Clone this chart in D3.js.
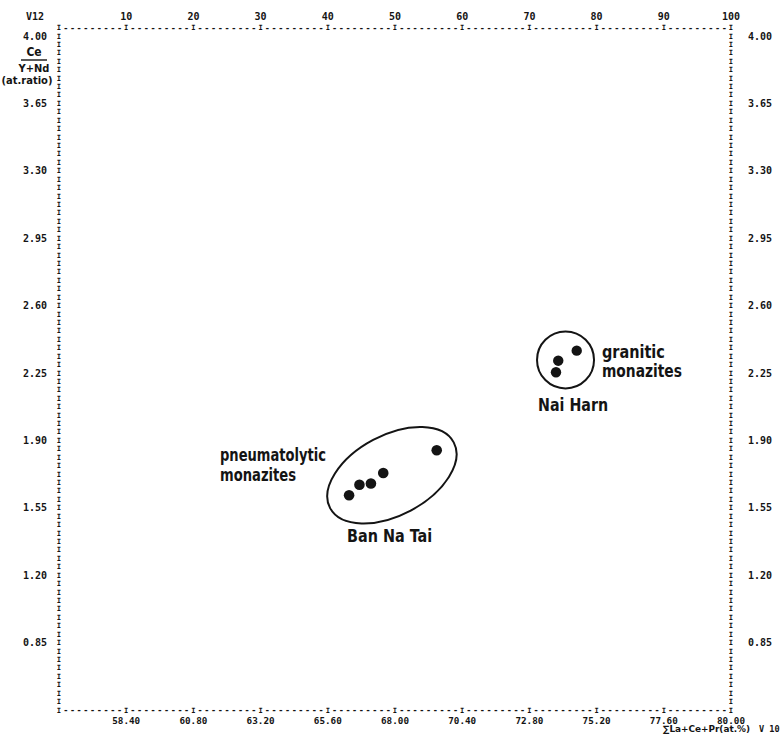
<!DOCTYPE html>
<html><head><meta charset="utf-8">
<script src="https://cdn.jsdelivr.net/npm/d3@7/dist/d3.min.js"></script>
<style>body{margin:0;background:#fff}</style>
</head><body>
<svg id="chart" width="784" height="734"></svg>
<script>
// ---- data ----
const topTicks = [10, 20, 30, 40, 50, 60, 70, 80, 90, 100];
const bottomTicks = [58.40, 60.80, 63.20, 65.60, 68.00, 70.40, 72.80, 75.20, 77.60, 80.00];
const yTicks = [0.85, 1.20, 1.55, 1.90, 2.25, 2.60, 2.95, 3.30, 3.65, 4.00];
const banNaTaiX = [66.36, 66.73, 67.14, 67.58, 69.49];
const banNaTaiY = [1.615, 1.670, 1.676, 1.731, 1.849];
const naiHarnX = [74.49, 73.83, 73.75];
const naiHarnY = [2.366, 2.314, 2.254];
const groupNames = ["Ban Na Tai", "Nai Harn"];
const groupCenterX = [67.89, 74.09];
const groupCenterY = [1.719, 2.318];
const labelTexts = ["pneumatolytic", "monazites", "Ban Na Tai", "Nai Harn", "granitic", "monazites"];
const labelX = [61.75, 61.75, 66.29, 73.11, 75.39, 75.39];
const labelY = [1.792, 1.688, 1.370, 2.052, 2.328, 2.229];

// ---- layout / style ----
const W = 784, H = 734;
const ink = "#141414";
const mono = "'DejaVu Sans Mono', 'Liberation Mono', monospace";
const cond = "'Liberation Sans Narrow', 'DejaVu Sans Condensed', 'Arial Narrow', sans-serif";
const x = d3.scaleLinear().domain([56, 80]).range([59, 731]);
const xTop = d3.scaleLinear().domain([0, 100]).range([59, 731]);
const y = d3.scaleLinear().domain([0.5, 4.0]).range([710, 36]);
const rowStep = 0.35 / 8;                    // line-printer rows
const nRows = Math.round(3.5 / rowStep) + 1; // index of top axis row
const rowY = r => y(0.5 + r * rowStep);

const svg = d3.select("#chart");
svg.append("rect").attr("width", W).attr("height", H).attr("fill", "#fff");
const g = svg.append("g").attr("fill", ink).attr("font-family", mono);

// printer "I" glyph
function glyphI(sel) {
  sel.attr("text-anchor", "middle").attr("dominant-baseline", "central")
    .attr("font-size", 7.1).attr("font-weight", "bold").text("I");
}

// horizontal printer axes (bottom: row 0, top: row nRows), one character per column
[0, nRows].forEach(r => {
  const yy = rowY(r);
  const cols = d3.range(0, 101);
  g.append("g").selectAll("text").data(cols.filter(d => d % 10 === 0)).join("text")
    .attr("x", d => xTop(d)).attr("y", yy).call(glyphI);
  g.append("g").selectAll("text").data(cols.filter(d => d % 10 !== 0)).join("text")
    .attr("x", d => xTop(d)).attr("y", yy)
    .attr("text-anchor", "middle").attr("dominant-baseline", "central")
    .attr("font-size", 8.5).attr("font-weight", "bold").text("-");
});
// vertical printer axes
x.range().forEach(xx => {
  g.append("g").selectAll("text").data(d3.range(1, nRows)).join("text")
    .attr("x", xx).attr("y", r => rowY(r)).call(glyphI);
});

const lab = sel => sel.attr("dominant-baseline", "central")
  .attr("font-size", 10).attr("font-weight", "bold");

// top tick labels
g.append("g").selectAll("text").data(topTicks).join("text")
  .attr("x", d => xTop(d)).attr("y", rowY(nRows) - 11)
  .attr("text-anchor", "middle").call(lab).text(d => d);
g.append("text").attr("x", 35).attr("y", rowY(nRows) - 11)
  .attr("text-anchor", "middle").call(lab).text("V12");

// bottom tick labels
g.append("g").selectAll("text").data(bottomTicks).join("text")
  .attr("x", d => x(d)).attr("y", rowY(0) + 10.4)
  .attr("text-anchor", "middle").call(lab).attr("font-size", 9.3)
  .text(d => d3.format(".2f")(d));

// left / right tick labels
g.append("g").selectAll("text").data(yTicks).join("text")
  .attr("x", x.range()[0] - 12).attr("y", d => y(d))
  .attr("text-anchor", "end").call(lab).text(d => d3.format(".2f")(d));
g.append("g").selectAll("text").data(yTicks).join("text")
  .attr("x", x.range()[1] + 17).attr("y", d => y(d))
  .attr("text-anchor", "start").call(lab).text(d => d3.format(".2f")(d));

// y-axis title
const yt = svg.append("g").attr("fill", ink).attr("font-family", cond).attr("font-weight", "bold");
yt.append("text").attr("x", 34).attr("y", 52).attr("text-anchor", "middle")
  .attr("dominant-baseline", "central").attr("font-size", 12).text("Ce");
yt.append("line").attr("x1", 21).attr("x2", 47).attr("y1", 60).attr("y2", 60)
  .attr("stroke", ink).attr("stroke-width", 1.4);
yt.append("text").attr("x", 34).attr("y", 68).attr("text-anchor", "middle")
  .attr("dominant-baseline", "central").attr("font-size", 11).text("Y+Nd");
yt.append("text").attr("x", 27).attr("y", 80).attr("text-anchor", "middle")
  .attr("dominant-baseline", "central").attr("font-size", 11)
  .attr("textLength", 51).attr("lengthAdjust", "spacingAndGlyphs").text("(at.ratio)");

// x-axis title
const xt = svg.append("g").attr("fill", ink).attr("font-weight", "bold");
xt.append("text").attr("x", 663).attr("y", 729).attr("font-family", cond)
  .attr("dominant-baseline", "central").attr("font-size", 8.6)
  .attr("textLength", 87).attr("lengthAdjust", "spacingAndGlyphs")
  .text("\u2211La+Ce+Pr(at.%)");
xt.append("text").attr("x", 759).attr("y", 729).attr("font-family", mono)
  .attr("dominant-baseline", "central").attr("font-size", 8.6).text("V 10");

// group outlines
const outlines = svg.append("g").attr("fill", "none").attr("stroke", ink).attr("stroke-width", 2);
outlines.append("ellipse")
  .attr("cx", x(groupCenterX[0])).attr("cy", y(groupCenterY[0]))
  .attr("rx", 70).attr("ry", 40)
  .attr("transform", `rotate(-28 ${x(groupCenterX[0])} ${y(groupCenterY[0])})`);
outlines.append("circle")
  .attr("cx", x(groupCenterX[1])).attr("cy", y(groupCenterY[1])).attr("r", 28.5);

// points
const pts = svg.append("g").attr("fill", ink);
pts.selectAll("circle.bnt").data(banNaTaiX).join("circle").attr("class", "bnt")
  .attr("cx", d => x(d)).attr("cy", (d, i) => y(banNaTaiY[i])).attr("r", 5.3);
pts.selectAll("circle.nh").data(naiHarnX).join("circle").attr("class", "nh")
  .attr("cx", d => x(d)).attr("cy", (d, i) => y(naiHarnY[i])).attr("r", 5.2);

// annotations
const labelWidths = [106, 76, 85, 70, 63, 80];
svg.append("g").attr("fill", ink).attr("font-family", cond).attr("font-weight", "bold")
  .selectAll("text").data(labelTexts).join("text")
  .attr("x", (d, i) => x(labelX[i])).attr("y", (d, i) => y(labelY[i]))
  .attr("font-size", 18)
  .attr("textLength", (d, i) => labelWidths[i]).attr("lengthAdjust", "spacingAndGlyphs")
  .text(d => d);
</script>
</body></html>
